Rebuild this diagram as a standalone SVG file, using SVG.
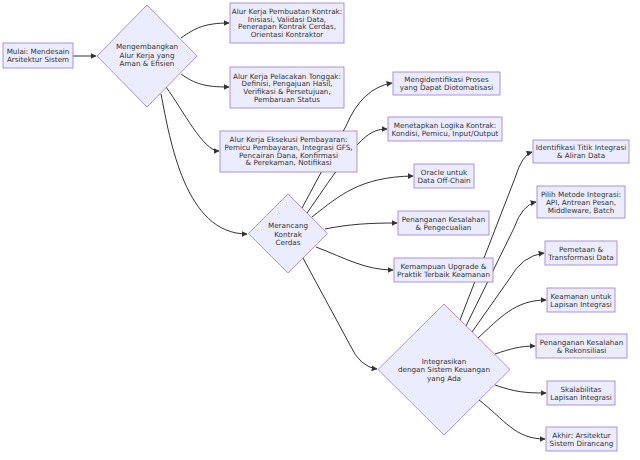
<svg xmlns="http://www.w3.org/2000/svg" width="640" height="460" viewBox="0 0 640 460">
<style>
.n{fill:#ECECFF;stroke:#9370DB;stroke-width:0.75}
.t{font-family:"DejaVu Sans",Verdana,sans-serif;font-size:7.2px;fill:#333;text-anchor:middle}
.e{fill:none;stroke:#333;stroke-width:1;marker-end:url(#arr)}
</style>
<defs>
<marker id="arr" viewBox="0 0 10 10" refX="9" refY="5" markerUnits="userSpaceOnUse" markerWidth="6" markerHeight="6" orient="auto">
<path d="M0,0 L10,5 L0,10 z" fill="#333"/>
</marker>
</defs>
<rect width="640" height="460" fill="#fff"/>
<g id="connectors">
<path class="e" d="M73,56 L96,56"/>
<path class="e" d="M181,38 C195,28 205,23 229,23"/>
<path class="e" d="M181,74 C195,84 205,87 229,87"/>
<path class="e" d="M166,87 C183,110 203,151 219,151"/>
<path class="e" d="M161,94 C170,140 185,234 247,234"/>
<path class="e" d="M302,208 L346,126 Q362,88 392,83"/>
<path class="e" d="M307,213 C330,180 350,150 360,142 C368,134 375,129 387,129"/>
<path class="e" d="M312,217 C340,195 360,177 413,176"/>
<path class="e" d="M325,229 C350,224 370,223 397,223"/>
<path class="e" d="M316,247 C345,258 365,270 393,270"/>
<path class="e" d="M303,258 L350,345 Q360,367 377,369"/>
<path class="e" d="M460,320 L515,178 Q522,155 532,152"/>
<path class="e" d="M466,326 L514,228 Q522,205 536,202"/>
<path class="e" d="M472,332 L510,278 Q522,256 544,253"/>
<path class="e" d="M478,338 C500,318 515,300 546,300"/>
<path class="e" d="M495,354 C510,349 520,346 535,346"/>
<path class="e" d="M495,385 C515,392 525,393 546,393"/>
<path class="e" d="M479,400 C505,420 515,439 545,439"/>
</g>
<g id="start"><rect class="n" x="3" y="43" width="70" height="25"/>
<text class="t" x="38" y="54">Mulai: Mendesain</text><text class="t" x="38" y="62">Arsitektur Sistem</text></g>
<g id="d1"><polygon class="n" points="147,5 197,56 147,107 97,56"/>
<text class="t" x="147" y="49.2">Mengembangkan</text><text class="t" x="147" y="57.5">Alur Kerja yang</text><text class="t" x="147" y="65.8">Aman &amp; Efisien</text></g>
<g id="b1"><rect class="n" x="230" y="3" width="114" height="40"/>
<text class="t" x="287" y="14.2">Alur Kerja Pembuatan Kontrak:</text><text class="t" x="287" y="21.8">Inisiasi, Validasi Data,</text><text class="t" x="287" y="29.4">Penerapan Kontrak Cerdas,</text><text class="t" x="287" y="37">Orientasi Kontraktor</text></g>
<g id="b2"><rect class="n" x="230" y="67" width="114" height="41"/>
<text class="t" x="287" y="78.7">Alur Kerja Pelacakan Tonggak:</text><text class="t" x="287" y="86.3">Definisi, Pengajuan Hasil,</text><text class="t" x="287" y="93.9">Verifikasi &amp; Persetujuan,</text><text class="t" x="287" y="101.5">Pembaruan Status</text></g>
<g id="b3"><rect class="n" x="220" y="131" width="137" height="41"/>
<text class="t" x="288.5" y="142.4">Alur Kerja Eksekusi Pembayaran:</text><text class="t" x="288.5" y="150">Pemicu Pembayaran, Integrasi GFS,</text><text class="t" x="288.5" y="157.6">Pencairan Dana, Konfirmasi</text><text class="t" x="288.5" y="165.2">&amp; Perekaman, Notifikasi</text></g>
<g id="d2"><polygon class="n" points="288,194 327.5,233.5 288,273 248.5,233.5"/>
<text class="t" x="288" y="228.2">Merancang</text><text class="t" x="288" y="236.5">Kontrak</text><text class="t" x="288" y="244.8">Cerdas</text></g>
<g id="m1"><rect class="n" x="393" y="72" width="107" height="23"/>
<text class="t" x="446.5" y="82">Mengidentifikasi Proses</text><text class="t" x="446.5" y="90">yang Dapat Diotomatisasi</text></g>
<g id="m2"><rect class="n" x="388" y="117" width="114" height="24"/>
<text class="t" x="445" y="127.5">Menetapkan Logika Kontrak:</text><text class="t" x="445" y="135.5">Kondisi, Pemicu, Input/Output</text></g>
<g id="m3"><rect class="n" x="414" y="164" width="60" height="24"/>
<text class="t" x="444" y="174.5">Oracle untuk</text><text class="t" x="444" y="182.5">Data Off-Chain</text></g>
<g id="m4"><rect class="n" x="398" y="211" width="91" height="24"/>
<text class="t" x="443.5" y="221.5">Penanganan Kesalahan</text><text class="t" x="443.5" y="229.5">&amp; Pengecualian</text></g>
<g id="m5"><rect class="n" x="394" y="258" width="99" height="24"/>
<text class="t" x="443.5" y="268.5">Kemampuan Upgrade &amp;</text><text class="t" x="443.5" y="276.5">Praktik Terbaik Keamanan</text></g>
<g id="d3"><polygon class="n" points="444,304 510,369.5 444,435 378,369.5"/>
<text class="t" x="444" y="363.5">Integrasikan</text><text class="t" x="444" y="372">dengan Sistem Keuangan</text><text class="t" x="444" y="380.5">yang Ada</text></g>
<g id="r1"><rect class="n" x="533" y="140" width="96" height="23"/>
<text class="t" x="581" y="150">Identifikasi Titik Integrasi</text><text class="t" x="581" y="158">&amp; Aliran Data</text></g>
<g id="r2"><rect class="n" x="537" y="186" width="88" height="32"/>
<text class="t" x="581" y="196.5">Pilih Metode Integrasi:</text><text class="t" x="581" y="204.5">API, Antrean Pesan,</text><text class="t" x="581" y="212.5">Middleware, Batch</text></g>
<g id="r3"><rect class="n" x="545" y="241" width="72" height="24"/>
<text class="t" x="581" y="251.5">Pemetaan &amp;</text><text class="t" x="581" y="259.5">Transformasi Data</text></g>
<g id="r4"><rect class="n" x="547" y="288" width="68" height="24"/>
<text class="t" x="581" y="298.5">Keamanan untuk</text><text class="t" x="581" y="306.5">Lapisan Integrasi</text></g>
<g id="r5"><rect class="n" x="536" y="334" width="91" height="24"/>
<text class="t" x="581.5" y="344.5">Penanganan Kesalahan</text><text class="t" x="581.5" y="352.5">&amp; Rekonsiliasi</text></g>
<g id="r6"><rect class="n" x="547" y="381" width="68" height="24"/>
<text class="t" x="581" y="391.5">Skalabilitas</text><text class="t" x="581" y="399.5">Lapisan Integrasi</text></g>
<g id="r7"><rect class="n" x="546" y="427" width="71" height="24"/>
<text class="t" x="581.5" y="437.5">Akhir: Arsitektur</text><text class="t" x="581.5" y="445.5">Sistem Dirancang</text></g>
</svg>
